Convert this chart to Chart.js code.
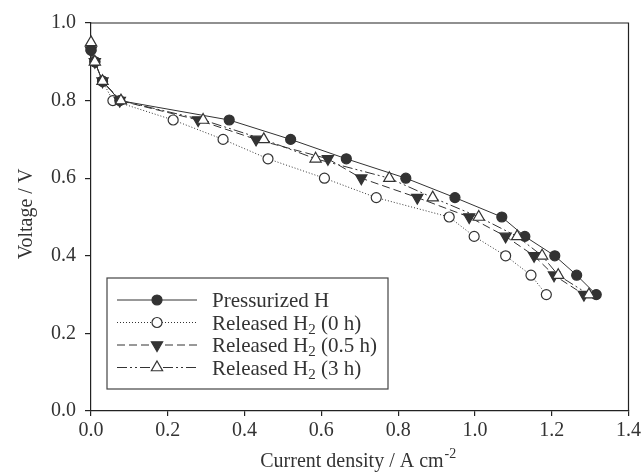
<!DOCTYPE html>
<html>
<head>
<meta charset="utf-8">
<script src="https://cdn.jsdelivr.net/npm/chart.js@4.4.0/dist/chart.umd.min.js"></script>
<style>
  html, body { margin: 0; padding: 0; background: #fff; }
  #wrap { width: 644px; height: 473px; }
</style>
</head>
<body>
<div id="wrap"><canvas id="myChart" width="644" height="473"></canvas></div>
<script>
// data
const xTicks = [0, 0.2, 0.4, 0.6, 0.8, 1.0, 1.2, 1.4];
const yTicks = [0, 0.2, 0.4, 0.6, 0.8, 1.0];

const curPressurized = [0, 0.01, 0.03, 0.075, 0.36, 0.52, 0.665, 0.82, 0.948, 1.07, 1.13, 1.208, 1.265, 1.316];
const voltPressurized = [0.93, 0.90, 0.85, 0.80, 0.75, 0.70, 0.65, 0.60, 0.55, 0.50, 0.45, 0.40, 0.35, 0.30];

const curRel0h = [0, 0.01, 0.03, 0.057, 0.214, 0.344, 0.461, 0.608, 0.743, 0.933, 0.998, 1.08, 1.146, 1.186];
const voltRel0h = [0.93, 0.90, 0.85, 0.80, 0.75, 0.70, 0.65, 0.60, 0.55, 0.50, 0.45, 0.40, 0.35, 0.30];

const curRel05h = [0, 0.01, 0.03, 0.075, 0.279, 0.43, 0.617, 0.704, 0.85, 0.985, 1.08, 1.154, 1.206, 1.284];
const voltRel05h = [0.93, 0.90, 0.85, 0.80, 0.75, 0.70, 0.65, 0.60, 0.55, 0.50, 0.45, 0.40, 0.35, 0.30];

const curRel3h = [0, 0.01, 0.03, 0.078, 0.292, 0.45, 0.585, 0.777, 0.89, 1.01, 1.11, 1.175, 1.217, 1.297];
const voltRel3h = [0.95, 0.90, 0.85, 0.80, 0.75, 0.70, 0.65, 0.60, 0.55, 0.50, 0.45, 0.40, 0.35, 0.30];

const legendLabels = [
    { main: 'Pressurized H', sub: '', rest: '' },
    { main: 'Released H', sub: '2', rest: ' (0 h)' },
    { main: 'Released H', sub: '2', rest: ' (0.5 h)' },
    { main: 'Released H', sub: '2', rest: ' (3 h)' }
];

const INK = '#333';
const FONT = '"Liberation Serif", "DejaVu Serif", serif';

function toPoints(xs, ys) {
    return xs.map((x, i) => ({ x: x, y: ys[i] }));
}

// series styles
const series = [
    { data: toPoints(curPressurized, voltPressurized), dash: [], style: 'circle', rot: 0, fill: INK, radius: 5, order: 1 },
    { data: toPoints(curRel0h, voltRel0h), dash: [1, 2], style: 'circle', rot: 0, fill: '#fff', radius: 5, order: 3 },
    { data: toPoints(curRel05h, voltRel05h), dash: [8, 4], style: 'triangle', rot: 180, fill: INK, radius: 6.5, order: 2 },
    { data: toPoints(curRel3h, voltRel3h), dash: [10, 3, 2, 3, 2, 3], style: 'triangle', rot: 0, fill: '#fff', radius: 6.5, order: 0 }
];

function drawMarker(ctx, s, x, y) {
    ctx.save();
    ctx.setLineDash([]);
    ctx.lineWidth = 1.2;
    ctx.strokeStyle = INK;
    ctx.fillStyle = s.fill;
    ctx.beginPath();
    if (s.style === 'circle') {
        ctx.arc(x, y, s.radius, 0, Math.PI * 2);
    } else {
        let rad = s.rot * Math.PI / 180;
        for (let k = 0; k < 3; k++) {
            const px = x + Math.sin(rad) * s.radius;
            const py = y - Math.cos(rad) * s.radius;
            if (k === 0) ctx.moveTo(px, py); else ctx.lineTo(px, py);
            rad += 2 * Math.PI / 3;
        }
        ctx.closePath();
    }
    ctx.fill();
    ctx.stroke();
    ctx.restore();
}

// frame, axis titles and the legend (needs sub/superscripts)
const extrasPlugin = {
    id: 'extras',
    afterDraw(chart) {
        const ctx = chart.ctx;
        const a = chart.chartArea;
        ctx.save();
        ctx.strokeStyle = '#222';
        ctx.lineWidth = 1.2;
        ctx.beginPath();
        ctx.moveTo(a.left, a.top);
        ctx.lineTo(a.right, a.top);
        ctx.lineTo(a.right, a.bottom);
        ctx.stroke();

        // x title with superscript
        ctx.fillStyle = INK;
        ctx.textBaseline = 'alphabetic';
        const t1 = 'Current density / A cm';
        ctx.font = '14px ' + FONT;
        const w2 = ctx.measureText('-2').width;
        ctx.font = '20px ' + FONT;
        const w1 = ctx.measureText(t1).width;
        const cx = (a.left + a.right) / 2;
        let tx = cx - (w1 + w2) / 2 - 2;
        ctx.textAlign = 'left';
        ctx.fillText(t1, tx, 467);
        ctx.font = '14px ' + FONT;
        ctx.fillText('-2', tx + w1 + 1, 458);

        // y title
        ctx.font = '20px ' + FONT;
        ctx.translate(32, (a.top + a.bottom) / 2 - 3);
        ctx.rotate(-Math.PI / 2);
        ctx.textAlign = 'center';
        ctx.fillText('Voltage / V', 0, 0);
        ctx.restore();

        // legend
        ctx.save();
        const bx = 107, by = 278, bw = 281, bh = 111;
        ctx.fillStyle = '#fff';
        ctx.fillRect(bx, by, bw, bh);
        ctx.strokeStyle = '#444';
        ctx.lineWidth = 1.2;
        ctx.strokeRect(bx, by, bw, bh);
        for (let i = 0; i < series.length; i++) {
            const s = series[i];
            const ry = 300 + i * 22.5;
            ctx.strokeStyle = INK;
            ctx.lineWidth = 1;
            ctx.setLineDash(s.dash);
            ctx.beginPath();
            ctx.moveTo(117, ry);
            ctx.lineTo(197, ry);
            ctx.stroke();
            drawMarker(ctx, s, 157, ry);
            const lab = legendLabels[i];
            ctx.fillStyle = INK;
            ctx.font = '21px ' + FONT;
            ctx.textAlign = 'left';
            ctx.textBaseline = 'alphabetic';
            let lx = 212;
            ctx.fillText(lab.main, lx, ry + 7);
            lx += ctx.measureText(lab.main).width;
            if (lab.sub) {
                ctx.font = '15px ' + FONT;
                ctx.fillText(lab.sub, lx, ry + 11);
                lx += ctx.measureText(lab.sub).width;
                ctx.font = '21px ' + FONT;
                ctx.fillText(lab.rest, lx, ry + 7);
            }
        }
        ctx.restore();
    }
};

let ctx = document.getElementById('myChart').getContext('2d');
let myChart = new Chart(ctx, {
    type: 'scatter',
    data: {
        datasets: series.map(s => ({
            data: s.data,
            showLine: true,
            clip: false,
            borderColor: INK,
            borderWidth: 1,
            borderDash: s.dash,
            backgroundColor: s.fill,
            pointStyle: s.style,
            pointRotation: s.rot,
            pointRadius: s.radius,
            pointBorderWidth: 1.2,
            pointBorderColor: INK,
            pointBackgroundColor: s.fill,
            order: s.order,
            tension: 0
        }))
    },
    options: {
        responsive: false,
        animation: false,
        layout: { padding: { top: 23, right: 14, left: 0, bottom: 0 } },
        plugins: {
            legend: { display: false },
            tooltip: { enabled: false }
        },
        scales: {
            x: {
                type: 'linear',
                min: 0,
                max: 1.4,
                afterBuildTicks: axis => { axis.ticks = xTicks.map(v => ({ value: v })); },
                afterFit: axis => { axis.height = 62; },
                ticks: {
                    color: INK,
                    font: { family: FONT, size: 20 },
                    padding: 3,
                    maxRotation: 0,
                    callback: v => v.toFixed(1)
                },
                grid: { drawOnChartArea: false, drawTicks: true, tickLength: 5, color: '#222', lineWidth: 1.2 },
                border: { display: true, color: '#222', width: 1.2 }
            },
            y: {
                type: 'linear',
                min: 0,
                max: 1.0,
                afterBuildTicks: axis => { axis.ticks = yTicks.map(v => ({ value: v })); },
                afterFit: axis => { axis.width = 91; },
                ticks: {
                    color: INK,
                    font: { family: FONT, size: 20 },
                    padding: 9,
                    callback: v => v.toFixed(1)
                },
                grid: { drawOnChartArea: false, drawTicks: true, tickLength: 6, color: '#222', lineWidth: 1.2 },
                border: { display: true, color: '#222', width: 1.2 }
            }
        }
    },
    plugins: [extrasPlugin]
});
</script>
</body>
</html>
